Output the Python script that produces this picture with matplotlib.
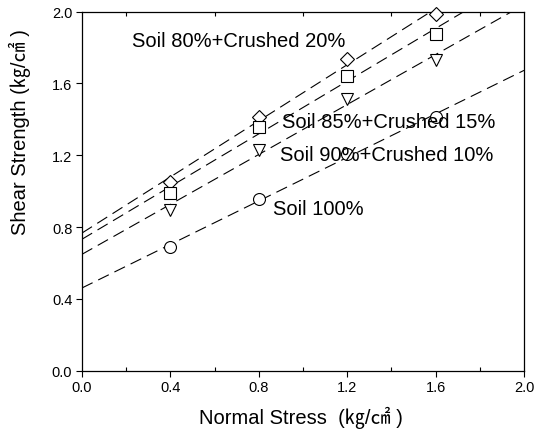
import numpy as np
import matplotlib
matplotlib.use("Agg")
import matplotlib.pyplot as plt

plt.rcParams['font.family'] = ['Liberation Sans', 'Noto Sans CJK KR', 'DejaVu Sans']
plt.rcParams['lines.scale_dashes'] = False

normal_stress = [0.4, 0.8, 1.2, 1.6]
soil80 = [1.054, 1.414, 1.737, 1.988]
soil85 = [0.991, 1.359, 1.639, 1.876]
soil90 = [0.898, 1.232, 1.514, 1.731]
soil100 = [0.690, 0.956, 1.208, 1.414]

labels = ["Soil 80%+Crushed 20%", "Soil 85%+Crushed 15%",
          "Soil 90%+Crushed 10%", "Soil 100%"]
label_pos = [(0.226, 1.837), (0.905, 1.391), (0.896, 1.203), (0.864, 0.906)]
xticks = [0.0, 0.4, 0.8, 1.2, 1.6, 2.0]
yticks = [0.0, 0.4, 0.8, 1.2, 1.6, 2.0]

fig = plt.figure(figsize=(5.37, 4.39), dpi=100)
ax = fig.add_axes([0.1527, 0.1533, 0.8231, 0.8178])

series = [(soil80, 'D', 7.6), (soil85, 's', 8.4), (soil90, 'v', 9.0), (soil100, 'o', 8.6)]
xx = np.array([0.0, 2.0])
for ys, mk, ms in series:
    k, b = np.polyfit(normal_stress, ys, 1)
    ax.plot(xx, k * xx + b, color='black', lw=0.8, dashes=(8.5, 4.5))
    ax.plot(normal_stress, ys, linestyle='none', marker=mk, ms=ms,
            mfc='white', mec='black', mew=0.8, zorder=3, clip_on=False)

for txt, (tx, ty) in zip(labels, label_pos):
    ax.text(tx, ty, txt, fontsize=14.5, ha='left', va='center', zorder=4)

ax.set_xlim(0, 2.0)
ax.set_ylim(0, 2.0)
ax.set_xticks(xticks)
ax.set_xticklabels([f"{v:.1f}" for v in xticks])
ax.set_yticks(yticks)
ax.set_yticklabels([f"{v:.1f}" for v in yticks])
ax.set_xticks([0.2, 0.6, 1.0, 1.4, 1.8], minor=True)
ax.tick_params(axis='both', which='major', direction='out', length=4, width=0.8,
               labelsize=10.5, pad=3)
ax.tick_params(axis='x', which='minor', direction='in', length=3, width=0.8,
               top=True, bottom=True)
for sp in ax.spines.values():
    sp.set_linewidth(0.9)

fig.text(0.56, 0.048, "Normal Stress  (㎏/㎠ )", fontsize=14.5, ha='center', va='center')
fig.text(0.037, 0.70, "Shear Strength (㎏/㎠ )", fontsize=14.5, ha='center', va='center',
         rotation=90)

fig.savefig("out.png", dpi=100)
